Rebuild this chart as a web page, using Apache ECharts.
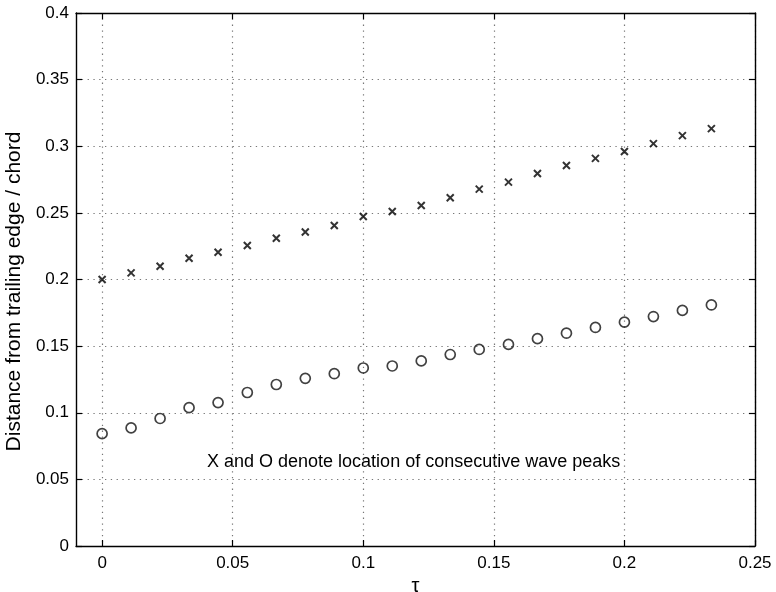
<!DOCTYPE html>
<html>
<head>
<meta charset="utf-8">
<script src="https://cdn.jsdelivr.net/npm/echarts@6/dist/echarts.min.js"></script>
<style>html,body{margin:0;padding:0;background:#fff}#c{width:776px;height:592px}</style>
</head>
<body>
<div id="c"></div>
<script>
const tau = [0, 0.0111, 0.0222, 0.0333, 0.0444, 0.0556, 0.0667, 0.0778, 0.0889, 0.1, 0.1111,
             0.1222, 0.1333, 0.1444, 0.1556, 0.1667, 0.1778, 0.1889, 0.2, 0.2111, 0.2222, 0.2333];
const peakX = [0.200, 0.205, 0.210, 0.216, 0.2205, 0.2255, 0.231, 0.2356, 0.2405, 0.2473, 0.251,
               0.2555, 0.2613, 0.2678, 0.2731, 0.2795, 0.2856, 0.2909, 0.296, 0.302, 0.308, 0.3132];
const peakO = [0.0843, 0.0886, 0.0957, 0.1038, 0.1076, 0.1152, 0.1212, 0.1258, 0.1293, 0.1336, 0.1351,
               0.1389, 0.1437, 0.1475, 0.1513, 0.1556, 0.1597, 0.1640, 0.1680, 0.1722, 0.1768, 0.1809];
const xTicks = [0, 0.05, 0.1, 0.15, 0.2, 0.25];
const xTitle = 'τ';
const yTitle = 'Distance from trailing edge / chord';
const note = 'X and O denote location of consecutive wave peaks';

const FONT = 'Liberation Sans, Arial, Helvetica, sans-serif';
const chart = echarts.init(document.getElementById('c'), null, {renderer: 'canvas'});
const lbl = {color: '#000', fontSize: 17, fontFamily: FONT};
const grid = {type: [1.3, 4.5], color: '#777', width: 1.2};
const fmt = v => String(+v.toFixed(4));

chart.setOption({
  animation: false,
  backgroundColor: '#fff',
  grid: {left: 76, right: 21, top: 13, bottom: 46, outerBoundsMode: 'none', containLabel: false},
  xAxis: [{
    type: 'value', min: -0.01, max: 0.25, position: 'bottom',
    axisLine: {show: true, onZero: false, lineStyle: {color: '#000', width: 1.4}},
    axisTick: {show: true, inside: true, length: 6, customValues: xTicks, lineStyle: {color: '#000', width: 1.2}},
    axisLabel: Object.assign({customValues: xTicks, margin: 9, formatter: fmt}, lbl),
    splitLine: {show: true, lineStyle: grid},
    name: xTitle, nameLocation: 'middle', nameGap: 27,
    nameTextStyle: {color: '#000', fontSize: 20, fontFamily: FONT}
  }, {
    type: 'value', min: -0.01, max: 0.25, position: 'top',
    axisLine: {show: true, onZero: false, lineStyle: {color: '#000', width: 1.4}},
    axisTick: {show: true, inside: true, length: 6, customValues: xTicks, lineStyle: {color: '#000', width: 1.2}},
    axisLabel: {show: false}, splitLine: {show: false}
  }],
  yAxis: [{
    type: 'value', min: 0, max: 0.4, interval: 0.05, position: 'left',
    axisLine: {show: true, onZero: false, lineStyle: {color: '#000', width: 1.4}},
    axisTick: {show: true, inside: true, length: 6, lineStyle: {color: '#000', width: 1.2}},
    axisLabel: Object.assign({margin: 7, formatter: fmt}, lbl),
    splitLine: {show: true, lineStyle: grid},
    name: yTitle, nameLocation: 'middle', nameGap: 45,
    nameTextStyle: {color: '#000', fontSize: 21, fontFamily: FONT, padding: [0, 24, 0, 0]}
  }, {
    type: 'value', min: 0, max: 0.4, interval: 0.05, position: 'right',
    axisLine: {show: true, onZero: false, lineStyle: {color: '#000', width: 1.4}},
    axisTick: {show: true, inside: true, length: 6, lineStyle: {color: '#000', width: 1.2}},
    axisLabel: {show: false}, splitLine: {show: false}
  }],
  series: [{
    type: 'scatter', name: 'X',
    data: tau.map((t, i) => [t, peakX[i]]),
    symbol: 'path://M0,0L10,10M10,0L0,10', symbolSize: 7,
    itemStyle: {color: 'none', borderColor: '#000', borderWidth: 2}
  }, {
    type: 'scatter', name: 'O',
    data: tau.map((t, i) => [t, peakO[i]]),
    symbol: 'circle', symbolSize: 10,
    itemStyle: {color: 'rgba(0,0,0,0)', borderColor: '#111', borderWidth: 1.7}
  }],
  graphic: [{
    type: 'text', left: 207, top: 453,
    style: {text: note, fill: '#000', font: '18px ' + FONT}
  }]
});
</script>
</body>
</html>
